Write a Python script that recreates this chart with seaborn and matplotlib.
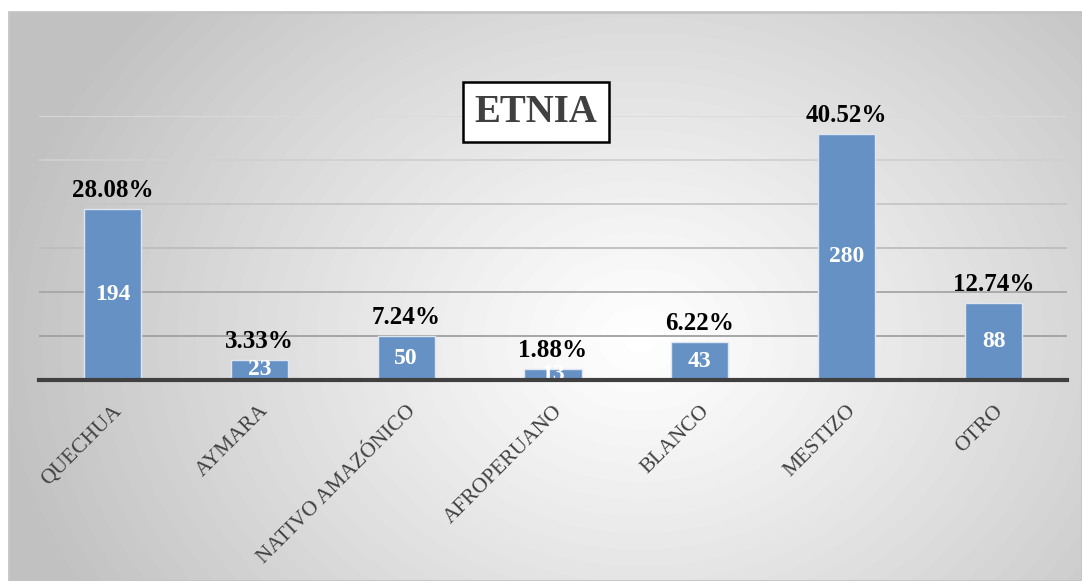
import numpy as np
import pandas as pd
import seaborn as sns
import matplotlib.pyplot as plt
from matplotlib.patches import Rectangle

# Data
categorias = ['QUECHUA', 'AYMARA', 'NATIVO AMAZÓNICO', 'AFROPERUANO',
              'BLANCO', 'MESTIZO', 'OTRO']
valores = [194, 23, 50, 13, 43, 280, 88]
porcentajes = [28.08, 3.33, 7.24, 1.88, 6.22, 40.52, 12.74]

df = pd.DataFrame({'etnia': categorias, 'n': valores})

sns.set_style('white')
plt.rcParams['font.family'] = ['Liberation Serif', 'DejaVu Serif']

W, H = 1082, 581
fig = plt.figure(figsize=(W / 100, H / 100), dpi=100)

# background radial gradient (chart area)
bg = fig.add_axes([9 / W, 0, 1 - 9 / W, (H - 12) / H])
bg.set_axis_off()
yy, xx = np.mgrid[12:H, 9:W]
r = np.sqrt((xx - 640) ** 2 + ((yy - 340) / 0.8) ** 2)
shade = 1 - 0.24 * np.clip(r / 640, 0, 1) ** 1.1
bg.imshow(shade, cmap='gray', vmin=0, vmax=1, aspect='auto',
          extent=[0, 1, 0, 1], origin='upper')
bg.add_patch(Rectangle((0, 0), 1, 1, transform=bg.transAxes, fill=False,
                       edgecolor='#c4c4c4', lw=2, clip_on=False))

ax = fig.add_axes([39 / W, (H - 380) / H, (1067 - 39) / W, (380 - 116) / H])
ax.patch.set_alpha(0)
sns.barplot(data=df, x='etnia', y='n', color='#6591c5', saturation=1,
            width=0.39, edgecolor='#dfe6f0', linewidth=1, ax=ax, zorder=3)

ax.set_ylim(0, 300)
ax.set_xlim(-0.5, len(categorias) - 0.5)
# gridlines get lighter towards the top
grid_cols = ['#a0a0a0', '#a6a6a6', '#bdbdbd', '#c6c6c6', '#d0d0d0', '#dadada']
for yv, c in zip(range(50, 301, 50), grid_cols):
    ax.axhline(yv, color=c, lw=1.3, zorder=1)
ax.set_yticks([])
ax.set_xlabel('')
ax.set_ylabel('')
for s in ['top', 'right', 'left']:
    ax.spines[s].set_visible(False)
ax.spines['bottom'].set_color('#404040')
ax.spines['bottom'].set_linewidth(3)
ax.spines['bottom'].set_zorder(5)

ax.set_xticks(range(len(categorias)))
ax.set_xticklabels(categorias, rotation=45, ha='right', rotation_mode='anchor',
                   fontsize=15.5, color='#404040')
ax.tick_params(axis='x', bottom=False, pad=12)

# value labels inside bars, percentages above
cont = ax.containers[0]
ax.bar_label(cont, labels=[str(v) for v in valores], label_type='center',
             color='white', fontsize=17, fontweight='bold')
ax.bar_label(cont, labels=[f'{p:.2f}%' for p in porcentajes], padding=5,
             color='black', fontsize=18, fontweight='bold', clip_on=False)

# boxed title
fig.text(536 / W, 1 - 112 / H, 'ETNIA', ha='center', va='center',
         fontsize=28, fontweight='bold', color='#404040',
         bbox=dict(boxstyle='square,pad=0.3', fc='white', ec='black', lw=1.8))

fig.savefig('out.png', dpi=100)
